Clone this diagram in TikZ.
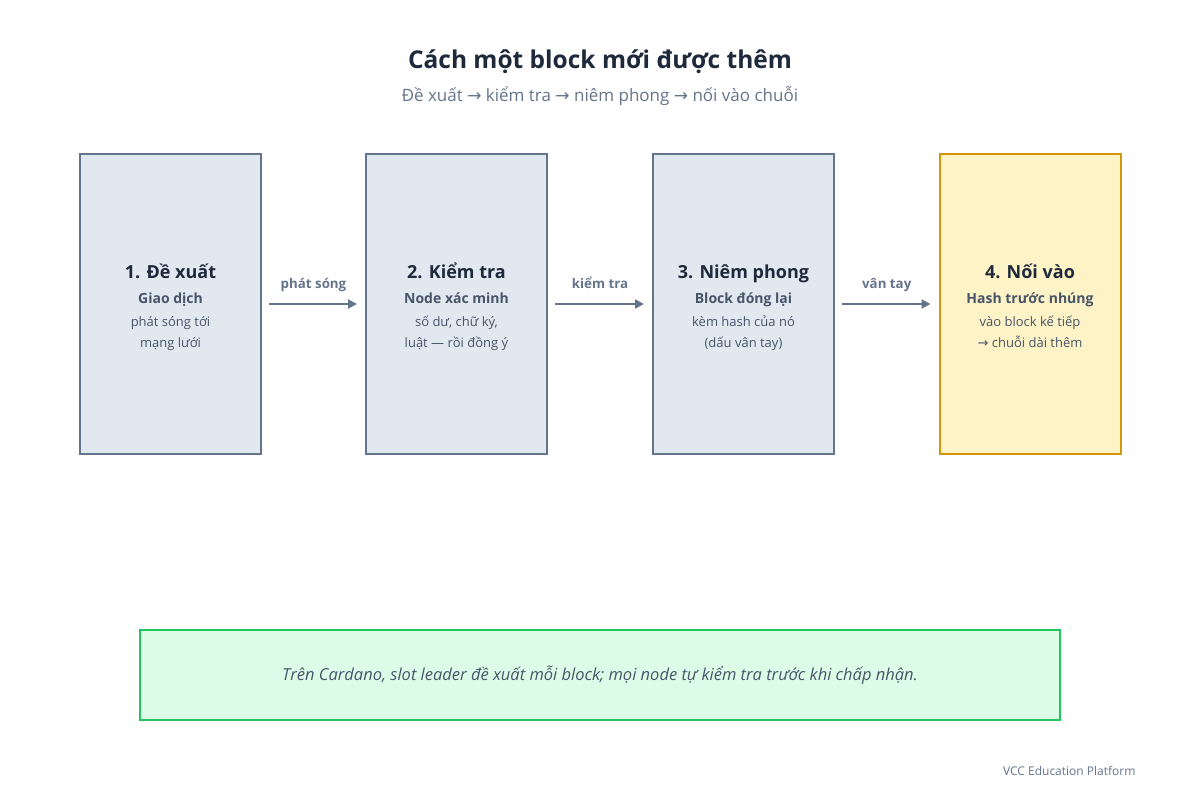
\documentclass[tikz,border=0pt]{standalone}
\usepackage{fontspec}
\setmainfont{Open Sans}
\newfontfamily\symfont{DejaVu Sans}
\usetikzlibrary{arrows.meta, positioning, calc}
\definecolor{colInk}{HTML}{1E293B}
\definecolor{colBody}{HTML}{475569}
\definecolor{colSlate}{HTML}{64748B}
\definecolor{colStep}{HTML}{E2E8F0}
\definecolor{colGold}{HTML}{D4960A}
\definecolor{colGoldFill}{HTML}{FEF3C7}
\definecolor{colGreen}{HTML}{22C55E}
\definecolor{colGreenFill}{HTML}{DCFCE7}
\newcommand{\arr}{{\symfont\char"2192}}

\begin{document}
\begin{tikzpicture}[x=1pt, y=-1pt,
    stepbox/.style={draw=colSlate, fill=colStep, line width=2pt, minimum width=181pt, minimum height=300pt, inner sep=0pt},
    lastbox/.style={stepbox, draw=colGold, fill=colGoldFill},
    boxtitle/.style={anchor=base, inner sep=0pt, text=colInk, font=\fontsize{18}{22}\selectfont\bfseries},
    boxsub/.style={anchor=base, inner sep=0pt, text=colBody, font=\fontsize{14}{17}\selectfont\bfseries},
    boxbody/.style={anchor=base, inner sep=0pt, text=colBody, font=\fontsize{13}{21}\selectfont, align=center},
    flow/.style={draw=colSlate, line width=2pt, -{Triangle[length=9pt,width=9pt]}, shorten <=7pt, shorten >=8pt},
    flowlabel/.style={anchor=base, inner sep=0pt, text=colSlate, font=\fontsize{13.3}{16}\selectfont\bfseries}]
    \useasboundingbox (0,0) rectangle (1200,800);

    % --- Judul ---
    \node[text=colInk, font=\fontsize{24.5}{29}\selectfont\bfseries] (title) at (600, 62) {Cách một block mới được thêm};
    \node[text=colSlate, font=\fontsize{17}{21}\selectfont] (subtitle) at (600, 96) {Đề xuất \arr{} kiểm tra \arr{} niêm phong \arr{} nối vào chuỗi};

    % --- Kotak langkah ---
    \node[stepbox] (b1) at (170.5, 304) {};
    \node[stepbox] (b2) at (456.5, 304) {};
    \node[stepbox] (b3) at (743.5, 304) {};
    \node[lastbox] (b4) at (1030, 304) {};

    % Isi kotak 1
    \node[boxtitle] (t1) at ([yshift=26pt]b1.center) {1. Đề xuất};
    \node[boxsub] (s1) at ([yshift=1pt]b1.center) {Giao dịch};
    \node[boxbody] (d1) at ([yshift=-43pt]b1.center) {phát sóng tới\\mạng lưới};

    % Isi kotak 2
    \node[boxtitle] (t2) at ([yshift=26pt]b2.center) {2. Kiểm tra};
    \node[boxsub] (s2) at ([yshift=1pt]b2.center) {Node xác minh};
    \node[boxbody] (d2) at ([yshift=-43pt]b2.center) {số dư, chữ ký,\\luật — rồi đồng ý};

    % Isi kotak 3
    \node[boxtitle] (t3) at ([yshift=26pt]b3.center) {3. Niêm phong};
    \node[boxsub] (s3) at ([yshift=1pt]b3.center) {Block đóng lại};
    \node[boxbody] (d3) at ([yshift=-43pt]b3.center) {kèm hash của nó\\(dấu vân tay)};

    % Isi kotak 4
    \node[boxtitle] (t4) at ([yshift=26pt]b4.center) {4. Nối vào};
    \node[boxsub] (s4) at ([yshift=1pt]b4.center) {Hash trước nhúng};
    \node[boxbody] (d4) at ([yshift=-43pt]b4.center) {vào block kế tiếp\\\arr{} chuỗi dài thêm};

    % --- Panah antar kotak ---
    \draw[flow] (b1) -- node[flowlabel, yshift=16pt] {phát sóng} (b2);
    \draw[flow] (b2) -- node[flowlabel, yshift=16pt] {kiểm tra} (b3);
    \draw[flow] (b3) -- node[flowlabel, yshift=16pt] {vân tay} (b4);

    % --- Catatan bawah ---
    \node[draw=colGreen, fill=colGreenFill, line width=2pt, minimum width=920pt, minimum height=90pt] (note) at (600, 675) {};
    \node[text=colBody, font=\fontsize{16.5}{20}\selectfont\itshape] at (note.center) {Trên Cardano, slot leader đề xuất mỗi block; mọi node tự kiểm tra trước khi chấp nhận.};

    % Footer
    \node[anchor=east, text=colSlate, font=\fontsize{12}{15}\selectfont] (footer) at (1139, 771) {VCC Education Platform};
\end{tikzpicture}
\end{document}
